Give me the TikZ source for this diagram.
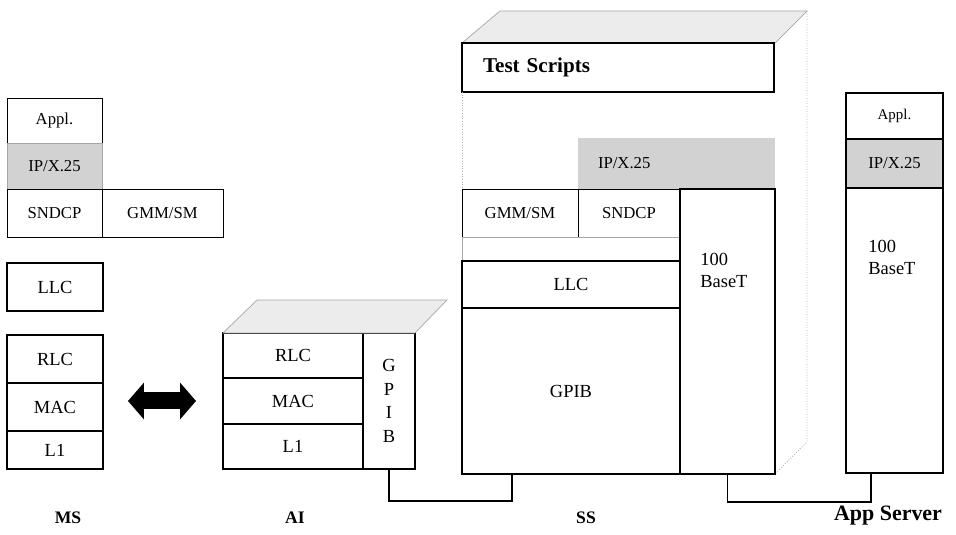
\documentclass[tikz,border=0pt]{standalone}
\usepackage{fontspec}
\setmainfont{Liberation Serif}
\usetikzlibrary{arrows.meta,positioning}

\begin{document}
\begin{tikzpicture}[
  x=0.02cm, y=-0.02cm,
  font=\fontsize{9.5}{11.5}\selectfont,
  node distance=0pt,
  layer/.style={draw, line width=0.9pt, anchor=north west, outer sep=0pt, inner sep=1pt, align=center},
  low layer/.style={layer, font=\fontsize{10.5}{12.5}\selectfont},
  thin layer/.style={layer, line width=0.5pt},
  shaded/.style={layer, draw=gray!70, line width=0.4pt, fill=gray!35},
  topface/.style={draw=gray!70, line width=0.4pt, fill=gray!15},
  body/.style={draw=gray!60, line width=0.5pt, densely dotted},
  wire/.style={line width=0.8pt},
  link/.style={line width=0.34cm, {Triangle[length=0.32cm,width=0.72cm]}-{Triangle[length=0.32cm,width=0.72cm]}, shorten <=0.5cm, shorten >=0.54cm},
  basetxt/.style={anchor=north west, align=left, inner sep=0pt, font=\fontsize{10.5}{12.5}\selectfont},
  devname/.style={font=\bfseries\fontsize{10}{12}\selectfont}
]
\useasboundingbox (0,0) rectangle (956,534);

% MS
\node[thin layer, minimum width=1.90cm, minimum height=0.90cm] (msappl) at (7,98) {Appl.};
\node[shaded, minimum width=1.90cm, minimum height=0.92cm, below=of msappl] (msip) {IP/X.25};
\node[thin layer, minimum width=1.90cm, minimum height=0.96cm, below=of msip] (mssndcp) {SNDCP};
\node[thin layer, minimum width=2.42cm, minimum height=0.96cm] (msgmm) at (102,189) {GMM/SM};
\node[low layer, minimum width=1.92cm, minimum height=0.96cm] (msllc) at (7,263) {LLC};
\node[low layer, minimum width=1.92cm, minimum height=0.96cm] (msrlc) at (7,335) {RLC};
\node[low layer, minimum width=1.92cm, minimum height=0.96cm, below=of msrlc] (msmac) {MAC};
\node[low layer, minimum width=1.92cm, minimum height=0.76cm, below=of msmac] (msl1) {L1};

% AI
\node[low layer, minimum width=2.80cm, minimum height=0.90cm] (airlc) at (223,333) {RLC};
\node[low layer, minimum width=2.80cm, minimum height=0.92cm, below=of airlc] (aimac) {MAC};
\node[low layer, minimum width=2.80cm, minimum height=0.90cm, below=of aimac] (ail1) {L1};
\node[layer, minimum width=1.04cm, minimum height=2.72cm, font=\fontsize{10.5}{13.5}\selectfont] (aigpib) at (363,333) {G\\P\\I\\B};
\filldraw[topface] (airlc.north west) -- ++(34,-33) -- ([shift={(32,-33)}]aigpib.north east) -- (aigpib.north east) -- cycle;

% SS
\fill[white] (462,43) rectangle (775,474);
\filldraw[topface] (462,43) -- (500,11) -- (807,11) -- (775,43) -- cycle;
\draw[body] (807,11) -- (807,442) -- (775,474);
\node[layer, minimum width=6.24cm, minimum height=0.98cm, text width=5.40cm, align=left, inner xsep=0.42cm,
  font=\bfseries\fontsize{12}{14}\selectfont] (sstest) at (462,43) {Test Scripts};
\draw[body] (sstest.south west) -- (462,189);
\node[shaded, draw=none, minimum width=3.94cm, minimum height=1.02cm, text width=3.14cm, align=left, inner xsep=0.4cm] (ssip) at (578,138) {IP/X.25};
\node[thin layer, minimum width=2.32cm, minimum height=0.96cm] (ssgmm) at (462,189) {GMM/SM};
\node[thin layer, minimum width=2.04cm, minimum height=0.96cm] (sssndcp) at (578,189) {SNDCP};
\node[thin layer, draw=gray!70, minimum width=4.36cm, minimum height=0.48cm] (ssgap) at (462,237) {};
\node[low layer, minimum width=4.36cm, minimum height=0.94cm] (ssllc) at (462,261) {LLC};
\node[low layer, minimum width=4.36cm, minimum height=3.32cm] (ssgpib) at (462,308) {GPIB};
\node[layer, minimum width=1.90cm, minimum height=5.70cm,
  label={[basetxt, xshift=0.40cm, yshift=-1.28cm]north west:100\\BaseT}] (ssbase) at (680,189) {};

% App Server
\node[layer, minimum width=1.94cm, minimum height=0.92cm, font=\fontsize{8.5}{10}\selectfont] (asappl) at (846,93) {Appl.};
\node[shaded, draw=black, line width=0.9pt, minimum width=1.94cm, minimum height=0.98cm] (asip) at (846,139) {IP/X.25};
\node[layer, minimum width=1.94cm, minimum height=5.70cm,
  label={[basetxt, xshift=0.44cm, yshift=-1.04cm]north west:100\\BaseT}] (asbase) at (846,188) {};

% links
\draw[link] (msmac.east |- aimac.west) -- (aimac.west);
\draw[wire] (aigpib.south) -- ++(0,32) -| ([xshift=1cm]ssgpib.south west);
\draw[wire] (ssbase.south) -- ++(0,28) -| ([xshift=0.5cm]asbase.south west);

% names
\node[devname] (msname) at (68,518) {MS};
\node[devname] (ainame) at (295,518) {AI};
\node[devname] (ssname) at (586,518) {SS};
\node[devname, font=\bfseries\fontsize{12.5}{14}\selectfont] (asname) at (888,516) {App Server};
\end{tikzpicture}
\end{document}
